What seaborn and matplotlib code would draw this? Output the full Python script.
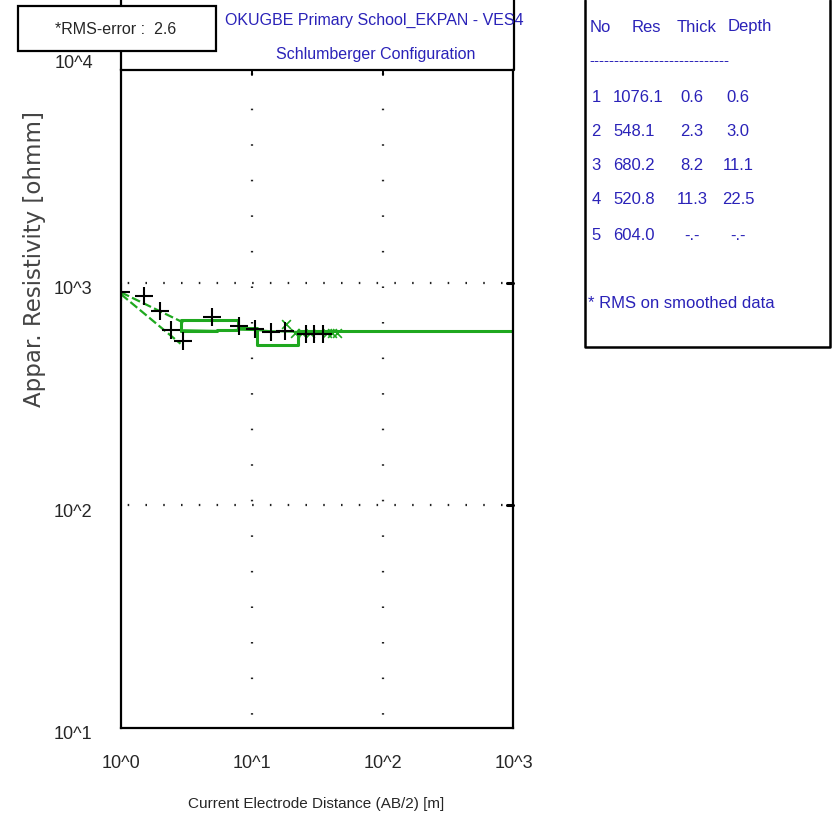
import matplotlib.pyplot as plt
import matplotlib.transforms as mtransforms
import pandas as pd
import seaborn as sns
from matplotlib.lines import Line2D
from matplotlib.patches import Rectangle

sns.set_style('white')
plt.rcParams['font.family'] = ['Liberation Sans', 'DejaVu Sans']

BLUE = '#2a22b8'
GREEN = '#1fa81f'
W, H = 835, 826

# field data (black crosses)
ab2 = [1.0, 1.5, 2.0, 2.4, 3.0, 5.0, 8.0, 10.5, 14.0, 18.0, 26.0, 30.0, 35.0]
rho_a = [905, 875, 750, 615, 548, 698, 637, 622, 598, 608, 588, 588, 588]

# smoothed points (green x)
sm_ab2 = [18.2, 21.4, 24.1, 27.9, 37.5, 40.9, 44.7]
sm_rho = [655, 592, 592, 592, 592, 592, 592]

# calculated curves
curve1_x = [1.0, 3.0]
curve1_y = [905, 662]
curve2_x = [1.0, 2.85]
curve2_y = [888, 532]
curve3_x = [3.0, 5.4, 8.0, 11.0, 14.0, 18.0, 22.4, 39.0, 61.5, 65.0, 96.0, 101.0, 1000.0]
curve3_y = [612, 608, 615, 612, 606, 603, 602, 606, 603, 606, 603, 604, 604]

# layered model steps
step1_x = [2.9, 2.9, 7.9, 10.9, 22.4, 1000.0]
step1_y = [608, 680, 625, 525, 604, 604]
step2_x = [2.9, 5.4, 7.9]
step2_y = [607, 614, 614]

# axis labels
x_ticks = [1, 10, 100, 1000]
x_labels = ['10^0', '10^1', '10^2', '10^3']
y_ticks = [10, 100, 1000]
y_labels = ['10^1', '10^2', '10^3']

# table
layer_no = ['1', '2', '3', '4', '5']
layer_res = ['1076.1', '548.1', '680.2', '520.8', '604.0']
layer_thick = ['0.6', '2.3', '8.2', '11.3', '-.-']
layer_depth = ['0.6', '3.0', '11.1', '22.5', '-.-']

df = pd.DataFrame({'ab2': ab2, 'rho': rho_a})
df_sm = pd.DataFrame({'ab2': sm_ab2, 'rho': sm_rho})


def fx(x):
    return x / W


def fy(y):
    return 1 - y / H


fig = plt.figure(figsize=(W / 100, H / 100), dpi=100)
x0, x1, y0, y1 = 121, 513.5, 69.5, 727.5
ytop = 10 ** 3.959
ax = fig.add_axes([fx(x0), fy(y1), fx(x1 - x0), (y1 - y0) / H])
ax.set_xscale('log')
ax.set_yscale('log')
ax.set_xlim(1, 1000)
ax.set_ylim(10, ytop)

# dotted grid on the major lines (dash units scale with lw)
for yy in [100, 1000]:
    ax.plot([1, 1000], [yy, yy], color='#222222', lw=1.6,
            linestyle=(5.0, (0.7, 7.3)), dash_capstyle='butt')
for xx in [10, 100]:
    ax.plot([xx, xx], [10, ytop], color='#222222', lw=1.6,
            linestyle=(10.0, (0.7, 15.3)), dash_capstyle='butt')

# curves
ax.plot(curve1_x, curve1_y, color=GREEN, lw=1.6, dashes=(4, 1.5))
ax.plot(curve2_x, curve2_y, color=GREEN, lw=1.6, dashes=(4, 1.5))
ax.plot(curve3_x, curve3_y, color=GREEN, lw=1.4)
ax.plot(step1_x, step1_y, color=GREEN, lw=2.2, drawstyle='steps-post')
ax.plot(step2_x, step2_y, color=GREEN, lw=2.2, drawstyle='steps-post')

sns.scatterplot(data=df_sm, x='ab2', y='rho', marker='x', s=40, color=GREEN,
                linewidth=1.2, ax=ax, zorder=5)
sns.scatterplot(data=df, x='ab2', y='rho', marker='+', s=150, color='black',
                linewidth=1.5, ax=ax, zorder=6)

ax.set_xlabel('')
ax.set_ylabel('')
ax.set_xticks(x_ticks)
ax.set_yticks(y_ticks)
ax.set_xticklabels([])
ax.set_yticklabels([])
ax.tick_params(axis='x', which='major', direction='in', length=12, width=1.4,
               top=False)
ax.tick_params(axis='y', which='major', direction='in', length=10, width=1.4,
               right=False)
ax.tick_params(axis='both', which='minor', direction='in', length=4, width=1.0,
               top=False, right=False)

# tick labels, placed slightly below their ticks like the original
shift = mtransforms.ScaledTranslation(0, -7 / 100, fig.dpi_scale_trans)
for v, lab in zip(y_ticks, y_labels):
    ax.text(-0.072, v, lab, transform=ax.get_yaxis_transform() + shift,
            ha='right', va='center', fontsize=13)
fig.text(fx(93), fy(64), '10^4', ha='right', va='center', fontsize=13)
for v, lab in zip(x_ticks, x_labels):
    ax.text(v, -0.054, lab, transform=ax.get_xaxis_transform(),
            ha='center', va='center', fontsize=13)

for s in ax.spines.values():
    s.set_linewidth(1.6)
    s.set_color('black')

# short ticks on top and right sides
for xx in [10, 100]:
    ax.plot([xx, xx], [ytop, ytop / 1.055], color='black', lw=1.4, clip_on=False)
for yy in [100, 1000]:
    ax.plot([1000 / 1.13, 1000], [yy, yy], color='black', lw=2.2, clip_on=False)

fig.text(fx(316), fy(804), 'Current Electrode Distance (AB/2) [m]', ha='center',
         va='center', fontsize=11)
fig.text(fx(35), fy(259), 'Appar. Resistivity [ohmm]', rotation=90, ha='center',
         va='center', fontsize=16.5, color='#444444', family='DejaVu Sans')

# vertical frame lines above plot
fig.add_artist(Line2D([fx(x0), fx(x0)], [fy(y0), 1], color='black', lw=1.6))
fig.add_artist(Line2D([fx(x1), fx(x1)], [fy(y0), 1], color='black', lw=1.6))

# title
fig.text(fx(374), fy(20), 'OKUGBE Primary School_EKPAN - VES4', ha='center',
         va='center', fontsize=11.5, color=BLUE)
fig.text(fx(376), fy(54), 'Schlumberger Configuration', ha='center',
         va='center', fontsize=11.5, color=BLUE)

# rms box
fig.add_artist(Rectangle((fx(18), fy(51)), fx(198), 45 / H, facecolor='white',
                         edgecolor='black', lw=1.6, zorder=3))
fig.text(fx(116), fy(30), '*RMS-error :  2.6', ha='center', va='center',
         fontsize=11.5, zorder=4)

# table box
TS = 12
fig.add_artist(Line2D([fx(585), fx(585), fx(830), fx(830)], [1, fy(347), fy(347), 1],
                      color='black', lw=1.8))
fig.text(fx(590), fy(27), 'No', ha='left', va='center', fontsize=TS, color=BLUE)
fig.text(fx(632), fy(27), 'Res', ha='left', va='center', fontsize=TS, color=BLUE)
fig.text(fx(677), fy(27), 'Thick', ha='left', va='center', fontsize=TS, color=BLUE)
fig.text(fx(728), fy(27), 'Depth', ha='left', va='center', fontsize=TS, color=BLUE)
fig.text(fx(589), fy(61), '-' * 28, ha='left', va='center', fontsize=11, color=BLUE)
row_y = [97, 131, 165, 200, 236]
for i in range(5):
    yy = fy(row_y[i])
    fig.text(fx(601), yy, layer_no[i], ha='right', va='center', fontsize=TS, color=BLUE)
    fig.text(fx(613), yy, layer_res[i], ha='left', va='center', fontsize=TS, color=BLUE)
    fig.text(fx(692), yy, layer_thick[i], ha='center', va='center', fontsize=TS, color=BLUE)
    fig.text(fx(738), yy, layer_depth[i], ha='center', va='center', fontsize=TS, color=BLUE)
fig.text(fx(588), fy(304), '* RMS on smoothed data', ha='left', va='center',
         fontsize=TS, color=BLUE)

fig.savefig('out.png', dpi=100)
